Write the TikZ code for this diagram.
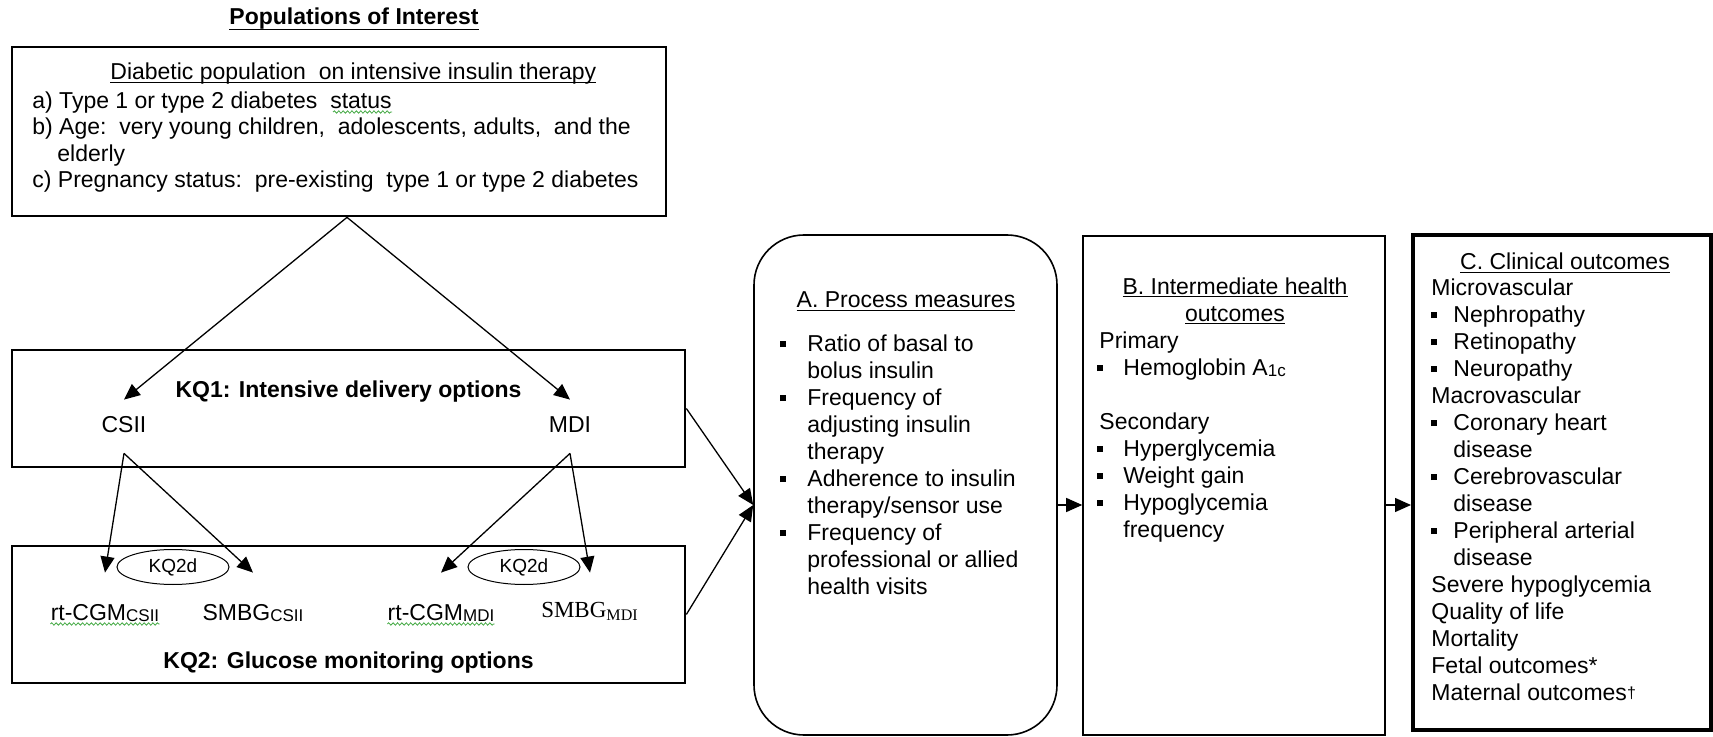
\documentclass[tikz,border=0pt]{standalone}
\usepackage{fontspec}
\setmainfont{Liberation Sans}
\newfontfamily\timesf{Liberation Serif}
\usetikzlibrary{shapes.geometric, arrows.meta, positioning, calc, decorations.pathmorphing}

\definecolor{spell}{RGB}{70,170,70}
\newsavebox\ulbx
\newcommand\uln[2][1.5pt]{\sbox\ulbx{#2}\rlap{\rule[-#1]{\wd\ulbx}{0.7pt}}\usebox\ulbx}
\newcommand\hstrut{\rule{0pt}{10pt}}
\newcommand\sq{\rule[2.2pt]{3pt}{3pt}}
\newcommand\itm[2][13.5pt]{\makebox[#1][l]{\sq}#2}
\newcommand\ind[1][13.5pt]{\hspace*{#1}}
\newcommand\sbs[1]{{\fontsize{8.5}{9}\selectfont\raisebox{-0.5pt}{#1}}}

\begin{document}
\begin{tikzpicture}[x=0.5pt, y=-0.5pt,
  font=\fontsize{11.5}{13.5}\selectfont,
  lbox/.style={draw, line width=1.35pt, inner sep=0},
  obox/.style={draw, line width=0.8pt, inner sep=0},
  cbox/.style={draw, line width=2pt, inner sep=0},
  pbox/.style={obox, rounded corners=25pt},
  kqd/.style={ellipse, draw, line width=0.5pt, minimum width=56pt, minimum height=17.5pt, inner sep=0, font=\fontsize{9.5}{10}\selectfont},
  hd/.style={anchor=base, inner sep=0, font=\fontsize{11.5}{13.5}\selectfont\bfseries},
  opt/.style={anchor=base, inner sep=0},
  lst/.style={anchor=north west, align=left, inner sep=0},
  arr/.style={-{Triangle[length=8pt, width=7pt]}, line width=0.65pt},
  squig/.style={draw=spell, line width=0.4pt, decorate, decoration={snake, amplitude=0.6pt, segment length=2.2pt}}
]
\useasboundingbox (0,0) rectangle (1713,737);

% populations
\node[hd] (ttl) at (354,25) {\uln[2.6pt]{Populations of Interest}};
\node[lbox, minimum width=327pt, minimum height=84.5pt] (pop) at (339,131.5) {};
\node[opt, anchor=base west] (pophd) at (110,80) {\uln{Diabetic population\ \ on intensive insulin therapy}};
\node[lst, font=\fontsize{11.5}{13.25}\selectfont] (poplst) at (32,88) {\hstrut a)~Type 1 or type 2 diabetes\ \ status\\
  b)~Age:\ \ very young children,\ \ adolescents, adults,\ \ and the\\
  \ind[12.5pt]elderly\\
  c)~Pregnancy status:\ \ pre-existing\ \ type 1 or type 2 diabetes};
\draw[squig] ($(poplst.north west)+(301,24)$) -- ($(poplst.north west)+(360,24)$);

% KQ1 box
\node[lbox, minimum width=336.5pt, minimum height=58.5pt] (kq1) at (348.5,408.5) {};
\node[hd] (kq1t) at (348.5,398) {KQ1: Intensive delivery options};
\node[opt, text height=16pt, text depth=10.5pt] (csii) at (124,432) {CSII};
\node[opt, text height=16pt, text depth=10.5pt] (mdi) at (570,432) {MDI};

% KQ2 box
\node[lbox, minimum width=336.5pt, minimum height=68.5pt] (kq2) at (348.5,614.5) {};
\node[kqd] (kqa) at (173,567) {KQ2d};
\node[kqd] (kqb) at (524,567) {KQ2d};
\node[opt, text height=23.5pt] (cgmc) at (105,620) {rt-CGM\sbs{CSII}};
\node[opt, text height=23.5pt] (smbgc) at (253,620) {SMBG\sbs{CSII}};
\node[opt, text height=23.5pt] (cgmm) at (441,620) {rt-CGM\sbs{MDI}};
\node[opt, text height=22pt] (smbgm) at (590,617) {\timesf SMBG\textsubscript{MDI}};
\node[hd] (kq2t) at (348.5,668) {KQ2: Glucose monitoring options};
\draw[squig] ([yshift=-2pt]cgmc.base west) -- ([yshift=-2pt]cgmc.base east);
\draw[squig] ([yshift=-2pt]cgmm.base west) -- ([yshift=-2pt]cgmm.base east);

\draw[arr] ([xshift=4pt]pop.south) -- (csii.north);
\draw[arr] ([xshift=4pt]pop.south) -- (mdi.north);
\draw[arr] (csii.south) -- (cgmc.north);
\draw[arr] (csii.south) -- (smbgc.north);
\draw[arr] (mdi.south) -- (cgmm.north);
\draw[arr] (mdi.south) -- (smbgm.north);

% A. process measures
\node[pbox, minimum width=151.5pt, minimum height=250pt] (proc) at (905.5,485) {};
\node[opt] (prochd) at (906,308) {\uln{A. Process measures}};
\node[lst] (proclst) at (780,331) {\hstrut\itm{Ratio of basal to}\\
  \ind bolus insulin\\
  \itm{Frequency of}\\
  \ind adjusting insulin\\
  \ind therapy\\
  \itm{Adherence to insulin}\\
  \ind therapy/sensor use\\
  \itm{Frequency of}\\
  \ind professional or allied\\
  \ind health visits};

% B. intermediate outcomes
\node[obox, minimum width=151pt, minimum height=249.5pt] (outB) at (1234,485.5) {};
\node[opt, align=center, anchor=north] (outBhd) at (1235,274) {\hstrut\uln{B. Intermediate health}\\ \uln{outcomes}};
\node[lst] (outBlst) at (1097,328) {\hstrut\ind[1pt]Primary\\
  \itm[13pt]{Hemoglobin A\sbs{1c}}\\[13.5pt]
  \ind[1pt]Secondary\\
  \itm[13pt]{Hyperglycemia}\\
  \itm[13pt]{Weight gain}\\
  \itm[13pt]{Hypoglycemia}\\
  \ind[13pt]frequency};

% C. clinical outcomes
\node[cbox, minimum width=149pt, minimum height=247.5pt] (outC) at (1562,482.5) {};
\node[opt] (outChd) at (1565,270) {\uln{C. Clinical outcomes}};
\node[lst] (outClst) at (1431,275) {\hstrut Microvascular\\
  \itm[11pt]{Nephropathy}\\
  \itm[11pt]{Retinopathy}\\
  \itm[11pt]{Neuropathy}\\
  Macrovascular\\
  \itm[11pt]{Coronary heart}\\
  \ind[11pt]disease\\
  \itm[11pt]{Cerebrovascular}\\
  \ind[11pt]disease\\
  \itm[11pt]{Peripheral arterial}\\
  \ind[11pt]disease\\
  Severe hypoglycemia\\
  Quality of life\\
  Mortality\\
  Fetal outcomes*\\
  Maternal outcomes{\fontsize{8}{8}\selectfont\raisebox{1pt}{†}}};

% links between boxes
\coordinate (mid) at (0,505);
\draw[arr] (kq1.east) -- (proc.west |- mid);
\draw[arr] (kq2.east) -- (proc.west |- mid);
\draw[arr] (proc.east |- mid) -- (outB.west |- mid);
\draw[arr] (outB.east |- mid) -- (outC.west |- mid);

\end{tikzpicture}
\end{document}
